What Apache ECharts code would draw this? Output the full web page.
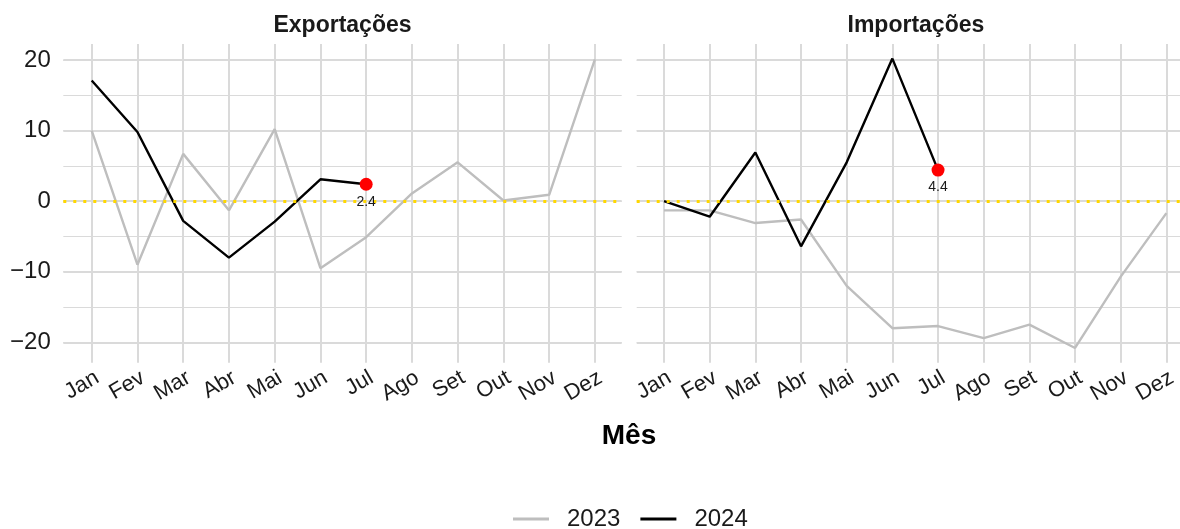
<!DOCTYPE html>
<html>
<head>
<meta charset="utf-8">
<script src="https://cdn.jsdelivr.net/npm/echarts@6/dist/echarts.min.js"></script>
<style>
html,body{margin:0;padding:0;background:#fff;}
#chart{width:1180px;height:529px;}
</style>
</head>
<body>
<div id="chart"></div>
<script>
// ---- data ----
const months = ['Jan','Fev','Mar','Abr','Mai','Jun','Jul','Ago','Set','Out','Nov','Dez'];
const panelTitles = ['Exportações','Importações'];
const seriesNames = ['2023','2024'];
const exp2023 = [10.0, -9.0, 6.7, -1.3, 10.2, -9.5, -5.1, 1.1, 5.5, 0.1, 0.9, 20.1];
const exp2024 = [17.1, 9.8, -2.8, -8.0, -2.9, 3.1, 2.4];
const imp2023 = [-1.3, -1.3, -3.1, -2.6, -12.0, -18.0, -17.7, -19.4, -17.5, -20.8, -10.7, -1.7];
const imp2024 = [0.0, -2.2, 6.9, -6.4, 5.5, 20.2, 4.4];
const yMin = -22.89, yMax = 22.27;

// ---- layout / style ----
const TOP = 44, H = 318.7;
const PANEL_W = 558.4;
const panelLeft = [63.3, 636.7];
const dataLeft = [91.7, 664.0];
const DATA_W = 503.2;
const gridColor = '#DADADA';
const FONT = 'Liberation Sans, Arial, Helvetica, sans-serif';

const chart = echarts.init(document.getElementById('chart'), null, {renderer: 'canvas'});

const grids = [];
const xAxes = [];
const yAxes = [];
const series = [];

for (let p = 0; p < 2; p++) {
  grids.push({left: panelLeft[p], top: TOP, width: PANEL_W, height: H, containLabel: false});
  grids.push({left: dataLeft[p], top: TOP, width: DATA_W, height: H, containLabel: false});
}

for (let p = 0; p < 2; p++) {
  const bg = 2 * p, dg = 2 * p + 1;
  xAxes.push({gridIndex: bg, type: 'value', min: 0, max: 1, show: false});
  xAxes.push({
    gridIndex: dg, type: 'category', data: months, boundaryGap: false, position: 'bottom',
    axisLine: {show: false}, axisTick: {show: false},
    splitLine: {show: true, lineStyle: {color: gridColor, width: 2}},
    axisLabel: {
      rotate: 30, align: 'right', verticalAlign: 'top', margin: 4,
      fontSize: 22, color: '#1a1a1a', fontFamily: FONT, interval: 0
    }
  });
  yAxes.push({
    gridIndex: bg, type: 'value', position: 'left', min: yMin, max: yMax, splitNumber: 9,
    axisLine: {show: false}, axisTick: {show: false}, axisLabel: {show: false},
    splitLine: {show: true, showMinLine: false, showMaxLine: false, lineStyle: {color: gridColor, width: 1.2}}
  });
  yAxes.push({
    gridIndex: bg, type: 'value', position: 'left', min: yMin, max: yMax, splitNumber: 5,
    axisLine: {show: false}, axisTick: {show: false},
    axisLabel: {
      show: p === 0, showMinLabel: false, showMaxLabel: false, margin: 12.5,
      fontSize: 24, color: '#1a1a1a', fontFamily: FONT,
      formatter: v => String(Math.round(v)).replace('-', '\u2212')
    },
    splitLine: {show: true, showMinLine: false, showMaxLine: false, lineStyle: {color: gridColor, width: 2}}
  });
  yAxes.push({gridIndex: dg, type: 'value', position: 'left', min: yMin, max: yMax, show: false, splitLine: {show: false}});
}

const panelData = [[exp2023, exp2024], [imp2023, imp2024]];
for (let p = 0; p < 2; p++) {
  const bgX = 2 * p, dgX = 2 * p + 1;
  const bgY = 3 * p + 1, dgY = 3 * p + 2;
  series.push({
    type: 'line', xAxisIndex: bgX, yAxisIndex: bgY, data: [], silent: true, z: 2,
    markLine: {
      silent: true, symbol: 'none', label: {show: false},
      lineStyle: {color: '#FFD700', width: 3, type: [3, 7], cap: 'butt'},
      data: [{yAxis: 0}]
    }
  });
  const [d23, d24] = panelData[p];
  series.push({
    name: seriesNames[0], type: 'line', xAxisIndex: dgX, yAxisIndex: dgY,
    data: d23, symbol: 'none', z: 3,
    lineStyle: {color: '#BEBEBE', width: 2.4}, itemStyle: {color: '#BEBEBE'}
  });
  series.push({
    name: seriesNames[1], type: 'line', xAxisIndex: dgX, yAxisIndex: dgY,
    data: d24, symbol: 'none', z: 4,
    lineStyle: {color: '#000000', width: 2.4}, itemStyle: {color: '#000000'}
  });
  const li = d24.length - 1;
  series.push({
    type: 'scatter', xAxisIndex: dgX, yAxisIndex: dgY, z: 5,
    data: [[months[li], d24[li]]], symbolSize: 13,
    itemStyle: {color: '#FF0000', opacity: 1},
    label: {
      show: true, position: 'bottom', distance: 4,
      formatter: prm => prm.value[1].toFixed(1),
      fontSize: 14, color: '#1a1a1a', fontFamily: FONT
    }
  });
}

const titles = [];
for (let p = 0; p < 2; p++) {
  titles.push({
    text: panelTitles[p], left: panelLeft[p] + PANEL_W / 2, top: 14, textAlign: 'center', padding: 0,
    textStyle: {fontSize: 23, fontWeight: 'bold', color: '#1a1a1a', fontFamily: FONT}
  });
}
titles.push({
  text: 'Mês', left: 629, top: 422, textAlign: 'center', padding: 0,
  textStyle: {fontSize: 28, fontWeight: 'bold', color: '#000', fontFamily: FONT}
});

chart.setOption({
  animation: false,
  backgroundColor: '#ffffff',
  title: titles,
  grid: grids,
  xAxis: xAxes,
  yAxis: yAxes,
  legend: {
    data: seriesNames.map((n, i) => ({name: n, itemStyle: {color: i === 0 ? '#BEBEBE' : '#000000'}})),
    icon: 'rect', itemWidth: 36, itemHeight: 3, itemGap: 20,
    left: 513, top: 507, padding: 0, selectedMode: false,
    textStyle: {fontSize: 24, color: '#1a1a1a', fontFamily: FONT, padding: [0, 0, 0, 13]}
  },
  series: series
});
</script>
</body>
</html>
